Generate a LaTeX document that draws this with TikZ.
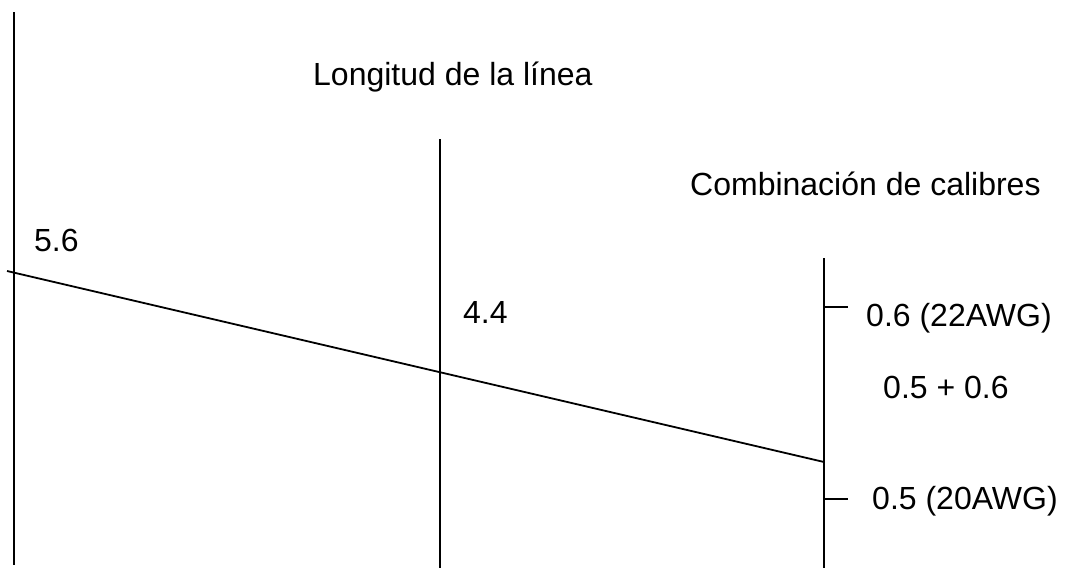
\documentclass[tikz,border=0pt]{standalone}
\usepackage{fontspec}
\setmainfont{Liberation Sans}
\begin{document}
\begin{tikzpicture}[x=1pt,y=-1pt,
  lbl/.style={anchor=base west,inner sep=0pt,font=\fontsize{32}{38}\selectfont},
  axis/.style={line width=2pt},
  link/.style={line width=1.8pt},
  tick/.style={line width=1.8pt}]
\useasboundingbox (0,0) rectangle (1071,568);
% scales
\coordinate (Ltop) at (13.5,12);
\coordinate (Lbot) at (13.5,565);
\coordinate (Mtop) at (440,139);
\coordinate (Mbot) at (440,568);
\coordinate (Rtop) at (824,258);
\coordinate (Rbot) at (824,568);
\draw[axis] (Ltop) -- (Lbot);
\draw[axis] (Mtop) -- (Mbot);
\draw[axis] (Rtop) -- (Rbot);
% ticks
\coordinate (t1a) at (824,307);
\coordinate (t1b) at (848,307);
\coordinate (t2a) at (824,499);
\coordinate (t2b) at (848,499);
\draw[tick] (t1a) -- (t1b);
\draw[tick] (t2a) -- (t2b);
% index line
\coordinate (P1) at (7,271);
\coordinate (P3) at (824,462);
\draw[link] (P1) -- (P3);
% labels
\node[lbl] (t1) at (313,85) {Longitud de la línea};
\node[lbl] (t2) at (690,195) {Combinación de calibres};
\node[lbl] (v1) at (34,251) {5.6};
\node[lbl] (v2) at (463,323) {4.4};
\node[lbl] (g1) at (866,326) {0.6 (22AWG)};
\node[lbl] (g2) at (883,398) {0.5 + 0.6};
\node[lbl] (g3) at (872,509) {0.5 (20AWG)};
\end{tikzpicture}
\end{document}
